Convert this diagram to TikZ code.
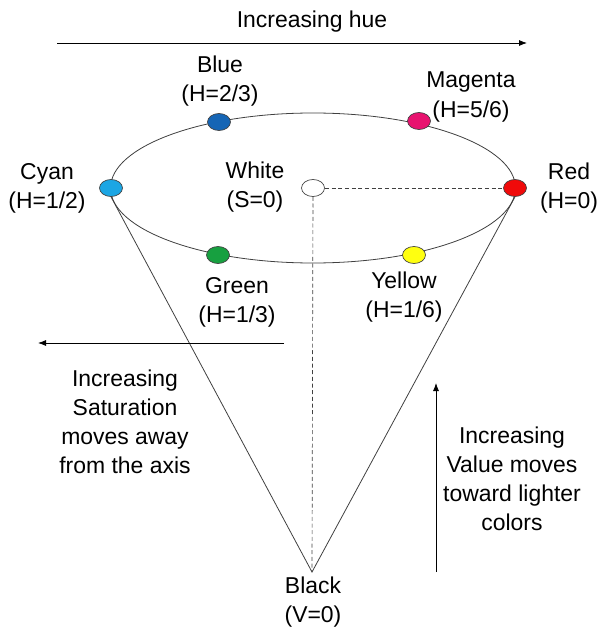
\documentclass[tikz,border=0pt]{standalone}
\usepackage{fontspec}
\setmainfont{Liberation Sans}
\usepackage{tikz}
\usetikzlibrary{arrows.meta,positioning,shapes.geometric}
\definecolor{dotblue}{HTML}{1565B5}
\definecolor{dotmagenta}{HTML}{E8136F}
\definecolor{dotcyan}{HTML}{1CA6E4}
\definecolor{dotred}{HTML}{F00A0A}
\definecolor{dotgreen}{HTML}{17A040}
\definecolor{dotyellow}{HTML}{FFFF10}
\tikzset{
  dot/.style={ellipse, draw=black!75, line width=0.5pt, minimum width=17.25pt,
    minimum height=12.75pt, inner sep=0pt},
  ring/.style={ellipse, draw=black!75, line width=0.6pt, minimum width=303.75pt,
    minimum height=112.5pt, inner sep=0pt},
  lbl/.style={align=center, inner sep=0pt},
  arr/.style={-{Latex[length=6pt,width=4.5pt]}, line width=0.6pt},
  cone/.style={draw=black!75, line width=0.6pt},
  axis/.style={draw=black!75, line width=0.5pt, dash pattern=on 3pt off 2pt}
}

\begin{document}
\begin{tikzpicture}[x=0.75pt, y=-0.75pt, font=\fontsize{17.2}{21.8}\selectfont]
  \useasboundingbox (0,0) rectangle (600,627);
  % hue circle
  \node[ring] (rim) at (313,188) {};
  \coordinate (apex) at (312,572);
  \node[dot, fill=white] (white) at (313,188) {};
  \node[dot, fill=dotblue] (blue) at (219,122) {};
  \node[dot, fill=dotmagenta] (magenta) at (419,121) {};
  \node[dot, fill=dotcyan] (cyan) at (111,188) {};
  \node[dot, fill=dotred] (red) at (515,188) {};
  \node[dot, fill=dotgreen] (green) at (218,255) {};
  \node[dot, fill=dotyellow] (yellow) at (414,255) {};
  \draw[axis] (white) -- (red);
  \draw[axis] (white) -- (apex);
  \draw[cone] (cyan.south) -- (apex) -- (red.south);
  % labels
  \node[lbl] (blueT) at (220,81) {Blue\\(H=2/3)};
  \node[lbl] (magentaT) at (471,97) {Magenta\\(H=5/6)};
  \node[lbl] (cyanT) at (47,188) {Cyan\\(H=1/2)};
  \node[lbl] (whiteT) at (255,187) {White\\(S=0)};
  \node[lbl] (redT) at (569,188) {Red\\(H=0)};
  \node[lbl] (greenT) at (237,302) {Green\\(H=1/3)};
  \node[lbl] (yellowT) at (404,297) {Yellow\\(H=1/6)};
  \node[lbl] (blackT) at (313,602) {Black\\(V=0)};
  % hue arrow
  \node[lbl] (hueT) at (312,22) {Increasing hue};
  \coordinate (hueA) at (57,43);
  \coordinate (hueB) at (527,43);
  \draw[arr] (hueA) -- (hueB);
  % saturation arrow
  \coordinate (satA) at (284,343);
  \coordinate (satB) at (38,343);
  \draw[arr] (satA) -- (satB);
  \node[lbl] (satT) at (125,422) {Increasing\\Saturation\\moves away\\from the axis};
  % value arrow
  \coordinate (valA) at (436,572);
  \coordinate (valB) at (436,383);
  \draw[arr] (valA) -- (valB);
  \node[lbl] (valT) at (512,479) {Increasing\\Value moves\\toward lighter\\colors};
\end{tikzpicture}
\end{document}
